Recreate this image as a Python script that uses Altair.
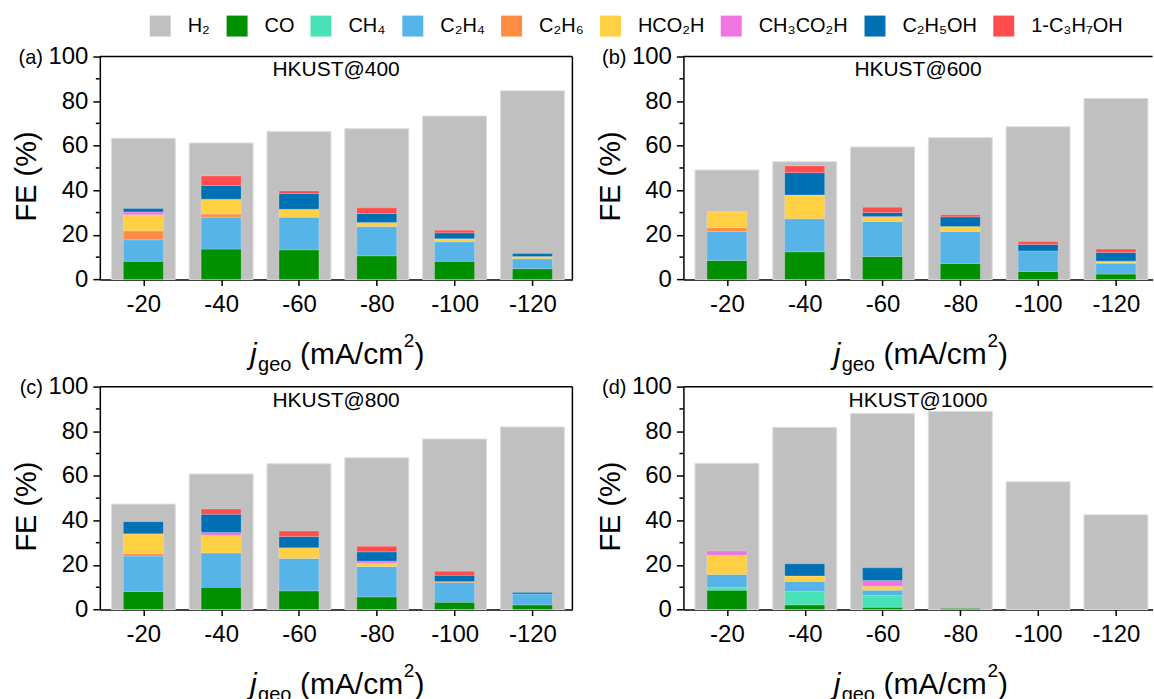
import altair as alt
import pandas as pd

FONT = "Liberation Sans"

currents = [-20, -40, -60, -80, -100, -120]
products = ["H₂", "CO", "CH₄", "C₂H₄", "C₂H₆", "HCO₂H", "CH₃CO₂H", "C₂H₅OH", "1-C₃H₇OH"]
colors = ["#c0c0c0", "#009000", "#48e2b6", "#56b4e9", "#ff8c42", "#ffcf44",
          "#f075e0", "#0070b4", "#ff4d4d"]

# Faradaic efficiencies (%) per current density, HKUST@400
h2_400 = [63.3, 61.2, 66.3, 67.6, 73.3, 84.6]
co_400 = [8.1, 13.6, 13.3, 10.6, 8.1, 4.8]
ch4_400 = [0, 0, 0, 0, 0, 0]
c2h4_400 = [9.7, 14.3, 14.6, 13.1, 8.8, 4.5]
c2h6_400 = [4.0, 1.4, 0, 0, 0, 0]
hcooh_400 = [7.2, 6.7, 3.6, 1.8, 1.3, 1.0]
acetic_400 = [1.3, 0, 0, 0, 0, 0]
etoh_400 = [1.5, 6.1, 7.0, 4.1, 2.7, 1.3]
proh_400 = [0, 4.3, 1.2, 2.5, 1.2, 0]

# HKUST@600
h2_600 = [49.1, 52.8, 59.4, 63.6, 68.5, 81.2]
co_600 = [8.5, 12.4, 10.3, 7.2, 3.6, 2.4]
ch4_600 = [0, 0, 0, 0, 0, 0]
c2h4_600 = [13.0, 14.8, 15.7, 14.3, 9.2, 4.9]
c2h6_600 = [1.8, 0, 0, 0, 0, 0]
hcooh_600 = [7.1, 10.7, 1.8, 2.2, 0, 0.5]
acetic_600 = [0, 0, 0.4, 0, 0, 0.5]
etoh_600 = [0, 10.0, 1.8, 4.4, 2.9, 3.8]
proh_600 = [0, 3.0, 2.4, 0.9, 1.3, 1.5]

# HKUST@800
h2_800 = [47.3, 60.8, 65.4, 68.1, 76.5, 81.9]
co_800 = [8.1, 10.0, 8.4, 5.7, 3.3, 2.1]
ch4_800 = [0, 0, 0, 0, 0, 0]
c2h4_800 = [15.9, 15.4, 14.5, 13.6, 8.8, 4.9]
c2h6_800 = [1.1, 0, 0, 0, 0.5, 0]
hcooh_800 = [8.9, 7.8, 4.8, 1.5, 0, 0]
acetic_800 = [0, 1.4, 0, 0.9, 0, 0]
etoh_800 = [5.4, 8.2, 5.1, 4.2, 2.8, 0.6]
proh_800 = [0, 2.3, 2.4, 2.5, 1.8, 0]

# HKUST@1000
h2_1000 = [65.6, 81.7, 87.9, 88.9, 57.3, 42.5]
co_1000 = [8.7, 2.1, 1.0, 0.5, 0, 0]
ch4_1000 = [1.2, 6.0, 5.3, 0, 0, 0]
c2h4_1000 = [5.8, 4.5, 2.4, 0, 0, 0]
c2h6_1000 = [0, 0, 0, 0, 0, 0]
hcooh_1000 = [8.7, 2.5, 1.8, 0, 0, 0]
acetic_1000 = [1.9, 0, 2.5, 0, 0, 0]
etoh_1000 = [0, 5.4, 5.7, 0, 0, 0]
proh_1000 = [0, 0, 0, 0, 0, 0]

major_ticks = [0, 20, 40, 60, 80, 100]
minor_ticks = [10, 30, 50, 70, 90]

PLOT_H = 223.3
PX_PER_UNIT = 473.4 / 118.9

color_enc = alt.Color(
    "product:N",
    scale=alt.Scale(domain=products, range=colors),
    legend=alt.Legend(
        title=None, orient="none", direction="horizontal",
        legendX=50, legendY=-41, padding=0,
        symbolType="square", symbolSize=441, symbolStrokeWidth=0,
        symbolOpacity=1, labelFont=FONT, labelFontSize=20, labelColor="black",
        labelOffset=17, columnPadding=16,
    ),
)


def long_table(series):
    rows = []
    for k, (name, vals) in enumerate(zip(products, series)):
        for j, v in zip(currents, vals):
            if v > 0:
                rows.append({"j": j, "product": name, "fe": v, "order": k})
    return pd.DataFrame(rows)


def panel(name, tag, series, width, right_border):
    df = long_table(series)
    x_end = -10.1 - width / PX_PER_UNIT
    x_enc = alt.X(
        "j:Q",
        scale=alt.Scale(domain=[x_end, -10.1], reverse=True, nice=False, zero=False),
        axis=alt.Axis(
            values=currents, labelExpr="'-' + abs(datum.value)", title="",
            grid=False, tickSize=6, labelPadding=7, labelFontSize=24,
            labelFont=FONT, labelColor="black", labelFlush=False,
        ),
    )
    y_scale = alt.Scale(domain=[0, 100], nice=False)
    y_axis = alt.Axis(
        values=major_ticks, title="FE (%)", grid=False,
        tickSize=7, labelPadding=5, labelFontSize=24, labelFont=FONT,
        labelColor="black", titleFont=FONT, titleFontSize=29,
        titleFontWeight="normal", titleColor="black", titlePadding=6,
        titleY=PLOT_H / 2 + 8, labelFlush=False,
    )

    base = alt.Chart(df)
    h2 = base.transform_filter(alt.datum.product == "H₂").mark_bar(
        size=64, stroke="#dcdcdc", strokeWidth=1
    ).encode(
        x=x_enc,
        y=alt.Y("fe:Q", scale=y_scale, stack=None, axis=y_axis),
        color=color_enc,
    )
    stacked = base.transform_filter(alt.datum.product != "H₂").mark_bar(
        size=40, stroke="#ffffff", strokeWidth=0.6, strokeOpacity=0.35
    ).encode(
        x=x_enc,
        y=alt.Y("fe:Q", scale=y_scale, stack="zero", axis=y_axis),
        color=color_enc,
        order=alt.Order("order:Q", sort="ascending"),
    )

    minor = alt.Chart(pd.DataFrame({"fe": minor_ticks})).mark_rule(
        color="black", strokeWidth=1.5
    ).encode(
        y=alt.Y("fe:Q", scale=y_scale, axis=y_axis),
        x=alt.value(-4), x2=alt.value(0),
    )

    one = pd.DataFrame({"t": [0]})
    title = alt.Chart(one).mark_text(
        text=name, font=FONT, fontSize=21, align="center", baseline="alphabetic",
        color="black",
    ).encode(x=alt.value(width / 2), y=alt.value(20))
    label = alt.Chart(one).mark_text(
        text=tag, font=FONT, fontSize=20, align="right", baseline="middle",
        color="black",
    ).encode(x=alt.value(-57), y=alt.value(1))

    # x-axis title assembled from pieces: j (italic), subscript geo, (mA/cm, superscript 2, )
    base_y = PLOT_H + 85
    pieces = [
        ("j", 150.5, base_y, 30, "italic"),
        ("geo", 158.5, base_y + 7, 20, "normal"),
        ("(mA/cm", 200.5, base_y, 30, "normal"),
        ("2", 304.5, base_y - 17, 19, "normal"),
        (")", 315.2, base_y, 30, "normal"),
    ]
    xtitle = [
        alt.Chart(one).mark_text(
            text=t, font=FONT, fontSize=fs, fontStyle=st, align="left",
            baseline="alphabetic", color="black",
        ).encode(x=alt.value(px), y=alt.value(py))
        for t, px, py, fs, st in pieces
    ]

    top = alt.Chart(one).mark_rule(color="black", strokeWidth=1.5).encode(
        x=alt.value(0), x2=alt.value(width), y=alt.value(0)
    )
    layers = [h2, stacked, minor, title, label, top] + xtitle
    if right_border:
        layers.append(
            alt.Chart(one).mark_rule(color="black", strokeWidth=1.5).encode(
                x=alt.value(width), y=alt.value(0), y2=alt.value(PLOT_H)
            )
        )
    return alt.layer(*layers).properties(width=width, height=PLOT_H)


s400 = [h2_400, co_400, ch4_400, c2h4_400, c2h6_400, hcooh_400, acetic_400, etoh_400, proh_400]
s600 = [h2_600, co_600, ch4_600, c2h4_600, c2h6_600, hcooh_600, acetic_600, etoh_600, proh_600]
s800 = [h2_800, co_800, ch4_800, c2h4_800, c2h6_800, hcooh_800, acetic_800, etoh_800, proh_800]
s1000 = [h2_1000, co_1000, ch4_1000, c2h4_1000, c2h6_1000, hcooh_1000, acetic_1000, etoh_1000, proh_1000]

pa = panel("HKUST@400", "(a)", s400, 473.4, True)
pb = panel("HKUST@600", "(b)", s600, 470, False)
pc = panel("HKUST@800", "(c)", s800, 473.4, True)
pd_ = panel("HKUST@1000", "(d)", s1000, 470, False)

chart = alt.concat(
    pa, pb, pc, pd_, columns=2, bounds="flush",
    spacing={"row": 106.7, "column": 110.6},
).resolve_scale(
    x="independent", y="independent", color="shared"
).resolve_legend(color="shared").properties(
    padding={"left": 12, "top": 15, "right": 0, "bottom": 0},
    background="white",
).configure_view(strokeWidth=0).configure_axis(
    domainColor="black", domainWidth=1.5, tickColor="black", tickWidth=1.5,
)

chart.save("out.html", embed_options={"renderer": "svg", "actions": False})
